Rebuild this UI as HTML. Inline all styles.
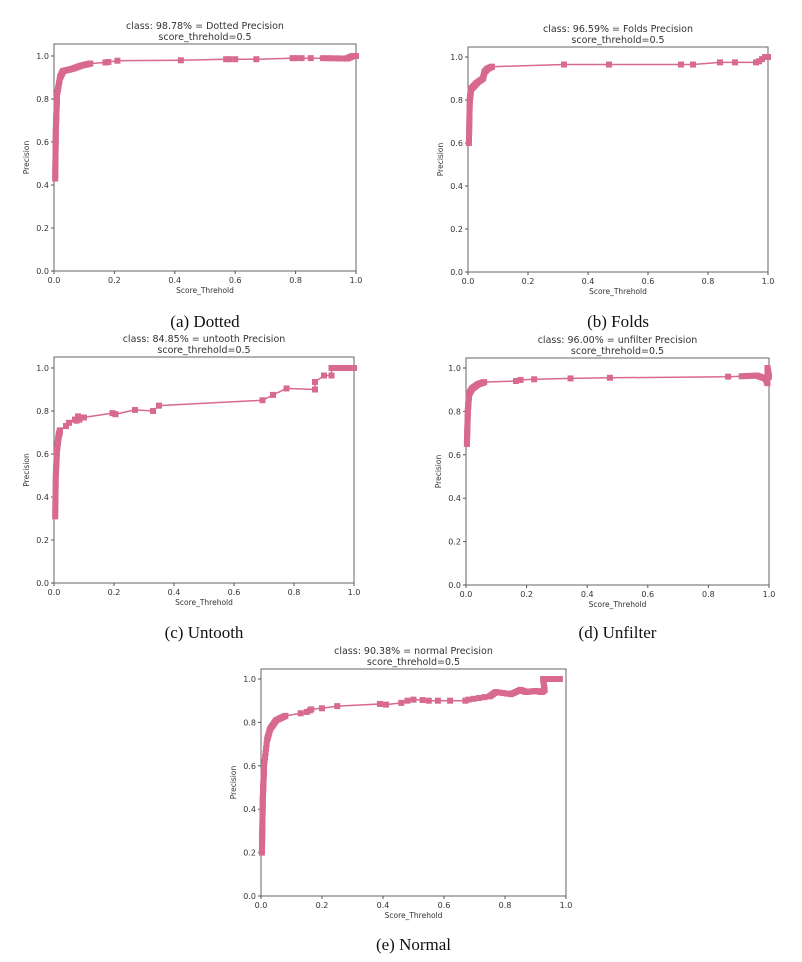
<!DOCTYPE html>
<html><head><meta charset="utf-8"><style>
html,body{margin:0;padding:0;background:#fff;width:802px;height:962px;overflow:hidden}
svg{display:block}
</style></head><body>
<svg id="s" width="802" height="962" xmlns="http://www.w3.org/2000/svg" font-family="'DejaVu Sans','Liberation Sans',sans-serif"></svg>
<script>
var S=document.getElementById('s');var out='';
var C='#d8698f';
function dense(pts,n){var r=[];for(var i=0;i<pts.length-1;i++){for(var k=0;k<n;k++){var t=k/n;r.push([pts[i][0]+(pts[i+1][0]-pts[i][0])*t,pts[i][1]+(pts[i+1][1]-pts[i][1])*t]);}}r.push(pts[pts.length-1]);return r;}
function panel(L,R,T,B,y1,title,cap,capY,pts){
 var sx=function(x){return L+(R-L)*x}, sy=function(y){return B-(B-y1)*y};
 var cx=(L+R)/2;
 out+='<text x="'+cx+'" y="'+(T-15)+'" font-size="9.5" fill="#333" text-anchor="middle">'+title+'</text>';
 out+='<text x="'+cx+'" y="'+(T-4)+'" font-size="9.5" fill="#333" text-anchor="middle">score_threhold=0.5</text>';
 out+='<rect x="'+L+'" y="'+T+'" width="'+(R-L)+'" height="'+(B-T)+'" fill="none" stroke="#666" stroke-width="1"/>';
 for(var i=0;i<=5;i++){var v=i*0.2;var x=sx(v),y=sy(v);
  out+='<line x1="'+x+'" y1="'+B+'" x2="'+x+'" y2="'+(B+3)+'" stroke="#555"/>';
  out+='<text x="'+x+'" y="'+(B+12)+'" font-size="8" fill="#333" text-anchor="middle">'+v.toFixed(1)+'</text>';
  out+='<line x1="'+(L-3)+'" y1="'+y+'" x2="'+L+'" y2="'+y+'" stroke="#555"/>';
  out+='<text x="'+(L-5)+'" y="'+(y+3)+'" font-size="8" fill="#333" text-anchor="end">'+v.toFixed(1)+'</text>';}
 out+='<text x="'+cx+'" y="'+(B+22)+'" font-size="7.5" fill="#333" text-anchor="middle">Score_Threhold</text>';
 out+='<text transform="translate('+(L-25)+','+((T+B)/2)+') rotate(-90)" font-size="7.5" fill="#333" text-anchor="middle">Precision</text>';
 var d='';pts.forEach(function(p,i){d+=(i?'L':'M')+sx(p[0]).toFixed(1)+' '+sy(p[1]).toFixed(1);});
 out+='<path d="'+d+'" fill="none" stroke="'+C+'" stroke-width="1.5"/>';
 pts.forEach(function(p){out+='<rect x="'+(sx(p[0])-3)+'" y="'+(sy(p[1])-3)+'" width="6" height="6" fill="'+C+'"/>';});
 out+='<text x="'+cx+'" y="'+capY+'" font-size="17" fill="#111" font-family="\'Liberation Serif\',serif" text-anchor="middle">'+cap+'</text>';
}
var a=dense([[0.004,0.43],[0.006,0.65],[0.01,0.82]],20).concat(dense([[0.01,0.82],[0.02,0.9],[0.03,0.93],[0.06,0.94],[0.09,0.955],[0.12,0.965]],6)).concat([[0.17,0.97],[0.18,0.972],[0.21,0.978],[0.42,0.98],[0.57,0.985],[0.58,0.985],[0.6,0.985],[0.67,0.985],[0.79,0.99],[0.8,0.99],[0.82,0.99],[0.85,0.99]]).concat(dense([[0.89,0.99],[0.97,0.988],[0.99,1.0],[1.0,1.0]],6));
panel(54,356,44,271,56,'class: 98.78% = Dotted Precision','(a) Dotted',327,a);
var b=dense([[0.003,0.6],[0.006,0.8],[0.01,0.85]],15).concat(dense([[0.01,0.85],[0.02,0.865],[0.03,0.88],[0.05,0.9],[0.055,0.93],[0.065,0.945],[0.08,0.955]],4)).concat([[0.32,0.965],[0.47,0.965],[0.71,0.965],[0.75,0.965],[0.84,0.975],[0.89,0.975],[0.96,0.975],[0.97,0.98],[0.98,0.99],[0.99,1.0],[1.0,1.0]]);
panel(468,768,47,272,57,'class: 96.59% = Folds Precision','(b) Folds',327,b);
var c=dense([[0.004,0.31],[0.006,0.5],[0.01,0.62],[0.015,0.68],[0.02,0.71]],12).concat([[0.04,0.73],[0.05,0.745],[0.07,0.76],[0.075,0.755],[0.08,0.775],[0.085,0.76],[0.1,0.77],[0.195,0.79],[0.205,0.785],[0.27,0.805],[0.33,0.8],[0.35,0.825],[0.695,0.85],[0.73,0.875],[0.775,0.905],[0.87,0.9],[0.87,0.935],[0.9,0.965],[0.925,0.965],[0.925,1.0]]).concat(dense([[0.925,1.0],[1.0,1.0]],10));
panel(54,354,357,583,368,'class: 84.85% = untooth Precision','(c) Untooth',638,c);
var d=dense([[0.003,0.65],[0.006,0.8],[0.01,0.88]],15).concat(dense([[0.01,0.88],[0.02,0.905],[0.04,0.925],[0.06,0.935]],6)).concat([[0.165,0.94],[0.18,0.945],[0.225,0.948],[0.345,0.952],[0.475,0.955],[0.865,0.96]]).concat(dense([[0.91,0.962],[0.96,0.965],[0.99,0.95],[0.995,0.93],[0.995,1.0],[1.0,0.96]],5));
panel(466,769,358,585,368,'class: 96.00% = unfilter Precision','(d) Unfilter',638,d);
var e=dense([[0.003,0.2],[0.006,0.45],[0.01,0.6]],25).concat(dense([[0.01,0.6],[0.02,0.72],[0.03,0.77],[0.05,0.81],[0.08,0.83]],6)).concat([[0.13,0.842],[0.15,0.848],[0.16,0.855],[0.165,0.86],[0.2,0.865],[0.25,0.875],[0.39,0.885],[0.41,0.882],[0.46,0.89],[0.48,0.9],[0.5,0.905],[0.53,0.903],[0.55,0.9],[0.58,0.9],[0.62,0.9],[0.67,0.9]]).concat(dense([[0.68,0.905],[0.75,0.92],[0.77,0.94],[0.82,0.93],[0.85,0.95],[0.87,0.94],[0.9,0.945],[0.92,0.94],[0.93,0.95],[0.925,1.0],[0.98,1.0]],4));
panel(261,566,669,896,679,'class: 90.38% = normal Precision','(e) Normal',950,e);
S.innerHTML=out;
</script>
</body></html>
